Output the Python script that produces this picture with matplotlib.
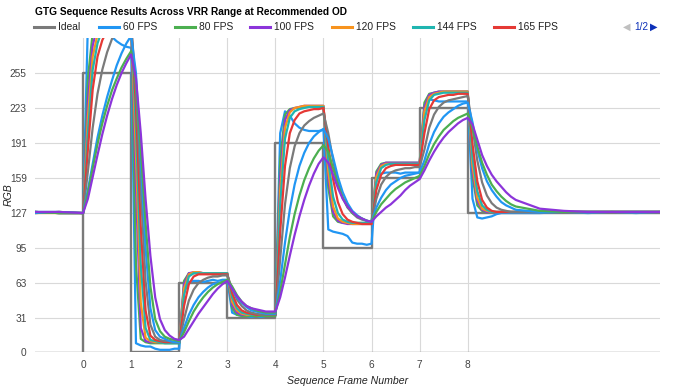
import numpy as np
import matplotlib
matplotlib.use("Agg")
import matplotlib.pyplot as plt
from matplotlib.lines import Line2D

plt.rcParams['font.family'] = ['Liberation Sans', 'DejaVu Sans']

# sample positions (sequence frame number) shared by every measured series
frame_x = [-1.0, -0.5] + [round(0.1 * i, 1) for i in range(91)] + [9.5, 10.0, 10.5, 11.0, 11.5, 12.0]

# ideal GTG sequence (step target)
ideal_x = [0, 0, 1, 1, 2, 2, 3, 3, 4, 4, 5, 5, 6, 6, 7, 7, 8, 8, 12]
ideal_y = [0, 255, 255, 0, 0, 63, 63, 31, 31, 191, 191, 95, 95, 159, 159, 223, 223, 127, 127]

# measured responses, one value per 0.1 frame (values above ~287 are clipped in the chart)
fps_60 = [128, 127,
          127, 300, 310, 305, 298, 292, 288, 284, 281, 279,
          278, 8, 6, 5, 5, 3, 2, 2, 2, 3,
          3, 55, 64, 65, 65, 64, 65, 66, 65, 66,
          66, 36, 34, 33, 33, 32, 33, 32, 33, 33,
          33, 200, 220, 216, 209, 205, 203, 202, 202, 202,
          203, 112, 110, 109, 108, 106, 100, 99, 99, 98,
          99, 158, 163, 164, 164, 164, 163, 164, 164, 164,
          164, 226, 231, 230, 229, 229, 229, 229, 229, 229,
          229, 140, 123, 122, 123, 124, 126, 127, 127, 127,
          127, 127, 128, 127, 128, 127, 128]
fps_80 = [128, 127,
          127, 250, 292, 305, 308, 308, 306, 304, 302, 300,
          300, 80, 12, 9, 8, 8, 8, 8, 8, 8,
          8, 65, 72, 72, 72, 72, 72, 71, 71, 71,
          71, 40, 34, 33, 33, 33, 33, 33, 33, 33,
          33, 175, 217, 222, 223, 223, 224, 224, 224, 224,
          224, 150, 124, 119, 118, 118, 118, 118, 118, 118,
          118, 165, 172, 173, 173, 173, 173, 173, 173, 173,
          173, 228, 236, 237, 238, 238, 238, 238, 238, 238,
          238, 160, 134, 129, 128, 128, 128, 128, 128, 128,
          128, 128, 128, 128, 128, 128, 128]
fps_100 = [128, 127,
           127, 230, 280, 298, 305, 306, 305, 303, 301, 300,
           300, 150, 22, 10, 9, 9, 9, 9, 9, 9,
           9, 62, 72, 73, 73, 72, 72, 72, 72, 72,
           72, 43, 36, 34, 34, 34, 34, 34, 34, 34,
           34, 160, 212, 221, 223, 224, 225, 225, 225, 225,
           225, 158, 128, 120, 118, 117, 117, 117, 117, 117,
           117, 163, 171, 173, 173, 173, 173, 173, 173, 173,
           173, 224, 235, 237, 238, 238, 238, 238, 238, 238,
           238, 165, 138, 130, 128, 128, 128, 128, 128, 128,
           128, 128, 128, 128, 128, 128, 128]
fps_120 = [127, 127,
           127, 215, 270, 290, 300, 304, 304, 303, 301, 300,
           300, 180, 45, 13, 10, 9, 9, 9, 9, 9,
           9, 58, 71, 73, 73, 72, 72, 72, 72, 72,
           72, 46, 38, 35, 34, 34, 34, 34, 34, 34,
           34, 148, 205, 219, 223, 224, 225, 225, 225, 225,
           225, 165, 133, 122, 119, 118, 117, 117, 117, 117,
           117, 160, 170, 172, 172, 172, 172, 172, 172, 172,
           172, 220, 233, 236, 237, 238, 238, 238, 238, 238,
           238, 170, 141, 131, 129, 128, 128, 128, 128, 128,
           128, 128, 128, 128, 128, 128, 128]
fps_144 = [128, 128,
           127, 200, 258, 282, 295, 300, 302, 302, 301, 300,
           300, 205, 80, 22, 11, 10, 9, 8, 8, 8,
           8, 52, 69, 72, 72, 72, 72, 72, 72, 72,
           72, 50, 40, 36, 35, 34, 34, 34, 34, 34,
           34, 135, 195, 214, 220, 222, 223, 224, 224, 224,
           224, 175, 142, 127, 121, 119, 118, 118, 118, 118,
           118, 155, 168, 171, 172, 172, 172, 172, 172, 172,
           172, 212, 230, 235, 236, 237, 237, 237, 237, 237,
           237, 178, 147, 134, 130, 128, 128, 128, 128, 128,
           128, 128, 128, 128, 128, 128, 128]
fps_165 = [127, 128,
           127, 185, 240, 270, 285, 294, 299, 300, 300, 300,
           300, 225, 115, 38, 15, 11, 10, 9, 9, 9,
           9, 42, 62, 69, 71, 71, 71, 71, 71, 71,
           71, 54, 43, 38, 36, 35, 34, 34, 34, 34,
           34, 110, 170, 200, 212, 218, 220, 221, 222, 222,
           223, 188, 158, 137, 126, 121, 119, 118, 117, 117,
           117, 148, 162, 168, 170, 171, 171, 171, 171, 171,
           171, 200, 222, 230, 233, 234, 235, 235, 236, 236,
           236, 190, 156, 139, 132, 129, 128, 128, 128, 128,
           128, 128, 128, 128, 128, 128, 128]
# series on legend page 2 (colours repeat)
page2_a = [128, 127,
           127, 165, 205, 236, 258, 274, 286, 294, 298, 300,
           300, 240, 150, 65, 25, 14, 11, 10, 10, 9,
           9, 30, 47, 57, 63, 66, 68, 69, 69, 70,
           70, 58, 48, 42, 38, 36, 35, 34, 34, 34,
           34, 85, 135, 168, 188, 200, 207, 211, 214, 216,
           218, 200, 175, 155, 141, 132, 127, 123, 121, 120,
           119, 140, 153, 160, 164, 166, 167, 168, 168, 169,
           169, 185, 205, 217, 224, 228, 230, 231, 232, 233,
           234, 205, 175, 155, 143, 136, 132, 130, 129, 128,
           128, 128, 128, 128, 128, 128, 128]
page2_b = [127, 128,
           127, 148, 172, 196, 216, 233, 248, 262, 273, 282,
           289, 255, 175, 95, 40, 20, 14, 12, 10, 9,
           9, 22, 34, 43, 50, 55, 59, 62, 63, 64,
           65, 58, 50, 45, 41, 38, 37, 36, 35, 35,
           35, 65, 100, 130, 153, 170, 182, 191, 197, 201,
           204, 195, 178, 160, 146, 136, 129, 125, 122, 120,
           119, 132, 141, 148, 153, 156, 159, 161, 162, 163,
           164, 175, 190, 201, 209, 215, 219, 222, 225, 227,
           228, 210, 185, 168, 156, 148, 142, 137, 134, 132,
           130, 128, 128, 128, 128, 128, 128]
page2_c = [128, 127,
           127, 145, 168, 190, 209, 225, 239, 250, 260, 268,
           275, 245, 185, 118, 60, 30, 19, 14, 12, 11,
           10, 18, 28, 37, 44, 50, 55, 59, 62, 64,
           66, 60, 52, 46, 42, 40, 38, 37, 36, 36,
           36, 55, 80, 105, 126, 143, 157, 168, 177, 184,
           189, 183, 168, 153, 141, 133, 127, 124, 122, 120,
           119, 128, 135, 140, 145, 149, 152, 155, 157, 159,
           161, 170, 181, 190, 197, 203, 207, 211, 214, 216,
           218, 205, 188, 173, 162, 153, 147, 142, 138, 135,
           133, 129, 128, 128, 128, 128, 128]
page2_d = [128, 128,
           127, 140, 160, 180, 199, 216, 231, 244, 255, 264,
           272, 250, 200, 140, 88, 50, 30, 20, 15, 12,
           11, 14, 21, 28, 35, 41, 47, 53, 58, 62,
           65, 58, 51, 46, 42, 40, 39, 38, 37, 37,
           37, 50, 68, 88, 107, 124, 139, 152, 163, 172,
           178, 173, 162, 150, 140, 133, 128, 124, 122, 120,
           119, 124, 128, 132, 135, 139, 143, 148, 152, 155,
           158, 166, 175, 183, 190, 196, 201, 205, 209, 212,
           214, 208, 194, 180, 170, 162, 156, 151, 146, 142,
           139, 131, 129, 128, 128, 128, 128]

legend_names = ['Ideal', '60 FPS', '80 FPS', '100 FPS', '120 FPS', '144 FPS', '165 FPS']
y_ticks = [0, 31, 63, 95, 127, 159, 191, 223, 255]
x_ticks = [0, 1, 2, 3, 4, 5, 6, 7, 8]

c_gray = '#7a7a7a'
c_blue = '#2196f3'
c_green = '#4caf50'
c_purple = '#8c35da'
c_orange = '#f7931e'
c_teal = '#1fb5b0'
c_red = '#e53935'

W, H = 675, 390
fig = plt.figure(figsize=(W / 100, H / 100), dpi=100)
ax = fig.add_axes([35 / W, 1 - 352 / H, 625 / W, 314 / H])

# grid
for yv in y_ticks[1:]:
    ax.axhline(yv, color='#d9d9d9', lw=0.8, zorder=0)
for xv in x_ticks:
    ax.axvline(xv, color='#d9d9d9', lw=0.8, zorder=0)
ax.axhline(0, color='#8c8c8c', lw=1.0, zorder=1)

ax.plot(ideal_x, ideal_y, color=c_gray, lw=1.7, zorder=2)
series = [(fps_60, c_blue), (fps_80, c_green), (fps_100, c_purple), (fps_120, c_orange),
          (fps_144, c_teal), (fps_165, c_red),
          (page2_a, c_gray), (page2_b, c_blue), (page2_c, c_green), (page2_d, c_purple)]
for vals, col in series:
    ax.plot(frame_x, vals, color=col, lw=1.6, zorder=3, solid_joinstyle='round')

ax.set_xlim(-1, 12)
ax.set_ylim(0, 287)
ax.set_yticks(y_ticks)
ax.set_xticks(x_ticks)
ax.tick_params(length=0, labelsize=7.3, labelcolor='#444444')
ax.tick_params(axis='y', pad=6)
ax.tick_params(axis='x', pad=6)
for sp in ax.spines.values():
    sp.set_visible(False)

ax.set_ylabel('RGB', style='italic', fontsize=7.6, color='#222222')
ax.yaxis.set_label_coords(-0.034, 0.5)
ax.set_xlabel('Sequence Frame Number', style='italic', fontsize=7.6, color='#222222')
ax.xaxis.set_label_coords((348 - 35) / 625, -0.078)

fig.text(35 / W, 1 - 12 / H, 'GTG Sequence Results Across VRR Range at Recommended OD',
         fontsize=7.3, weight='bold', color='#000000', va='center')

# legend row
leg_colors = [c_gray, c_blue, c_green, c_purple, c_orange, c_teal, c_red]
leg_x = [34, 99, 175, 250, 332, 413, 494]
ly = 1 - 27 / H
for name, col, lx in zip(legend_names, leg_colors, leg_x):
    fig.add_artist(Line2D([lx / W, (lx + 20) / W], [ly, ly], color=col, lw=2.2))
    fig.text((lx + 24) / W, ly, name, fontsize=7.4, color='#222222', va='center')
fig.text(623 / W, ly, '\u25c0', fontsize=7, color='#c0c0c0', va='center', family='DejaVu Sans')
fig.text(634 / W, ly, '1/2', fontsize=7.2, color='#0b2fb8', va='center')
fig.text(650 / W, ly, '\u25b6', fontsize=7, color='#0b2fb8', va='center', family='DejaVu Sans')

fig.savefig('out.png', dpi=100)
